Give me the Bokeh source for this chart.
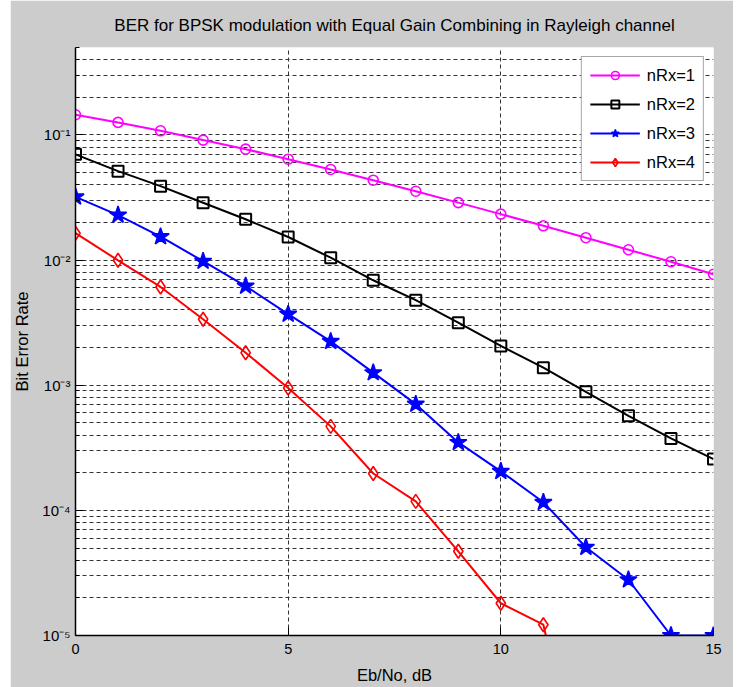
from bokeh.plotting import figure
from bokeh.models import (Range1d, FixedTicker, CustomJSTickFormatter, Legend,
                          LegendItem, Spacer)
from bokeh.layouts import row
from bokeh.embed import file_html
from bokeh.resources import INLINE

# ---------------- data ----------------
ebno_db = list(range(16))
ber_nrx1 = [0.145, 0.126, 0.108, 0.091, 0.077, 0.064, 0.053, 0.0435, 0.0355,
            0.0288, 0.0233, 0.0188, 0.0151, 0.0121, 0.0097, 0.0077]
ber_nrx2 = [0.070, 0.0514, 0.039, 0.0287, 0.0212, 0.0153, 0.01045, 0.0069,
            0.00478, 0.00316, 0.00206, 0.00138, 0.000885, 0.00057, 0.000376,
            0.000257]
ber_nrx3 = [0.032, 0.0229, 0.0154, 0.0098, 0.0062, 0.0037, 0.00224, 0.00126,
            0.000706, 0.000349, 0.000205, 0.000116, 5.07e-5, 2.79e-5, 1e-5,
            1e-5]
ebno_db4 = list(range(13))
ber_nrx4 = [0.0164, 0.00996, 0.0061, 0.00337, 0.00182, 0.00095, 0.000469,
            0.000197, 0.000118, 4.71e-5, 1.81e-5, 1.22e-5, 4e-7]

series_names = ["nRx=1", "nRx=2", "nRx=3", "nRx=4"]
x_ticks = [0, 5, 10, 15]
y_decades = [-5, -4, -3, -2, -1]

title_text = "BER for BPSK modulation with Equal Gain Combining in Rayleigh channel"
x_label = "Eb/No, dB"
y_label = "Bit Error Rate"

# ---------------- figure ----------------
FONT = "Liberation Sans, Arial, sans-serif"
GREY = "#cccccc"
GRID = "#333333"

p = figure(width=723, height=687, x_range=Range1d(0, 15),
           y_range=Range1d(1e-5, 0.5), y_axis_type="log",
           output_backend="svg", toolbar_location=None,
           min_border_left=62, min_border_right=20,
           min_border_top=47, min_border_bottom=52)

p.background_fill_color = "white"
p.border_fill_color = GREY
p.outline_line_color = None

p.title.text = title_text
p.title.align = "center"
p.title.text_font = FONT
p.title.text_font_size = "17px"
p.title.text_font_style = "normal"
p.title.text_color = "black"
p.title.standoff = 25

# ticks
major_y = [10.0 ** e for e in y_decades]
minor_y = [k * 10.0 ** e for e in y_decades for k in range(2, 10) if k * 10.0 ** e <= 0.5]
p.yaxis.ticker = FixedTicker(ticks=major_y, minor_ticks=minor_y)
p.yaxis.formatter = CustomJSTickFormatter(code="""
    const sup = {"-":"\u207b","0":"\u2070","1":"\u00b9","2":"\u00b2","3":"\u00b3",
                 "4":"\u2074","5":"\u2075","6":"\u2076","7":"\u2077","8":"\u2078","9":"\u2079"};
    const e = Math.round(Math.log10(tick));
    return "10" + String(e).split("").map(c => sup[c]).join("");
""")
p.xaxis.ticker = FixedTicker(ticks=x_ticks)

for ax in (p.xaxis[0], p.yaxis[0]):
    ax.axis_line_color = "black"
    ax.axis_line_width = 1.5
    ax.major_tick_line_color = "black"
    ax.minor_tick_line_color = "black"
    ax.major_tick_in = 8
    ax.major_tick_out = 0
    ax.major_label_text_font = FONT
    ax.major_label_text_font_size = "14.5px"
    ax.major_label_text_color = "black"
    ax.axis_label_text_font = FONT
    ax.axis_label_text_font_size = "16.5px"
    ax.axis_label_text_font_style = "normal"
    ax.axis_label_text_color = "black"

p.yaxis.major_label_text_font_size = "15px"
p.xaxis.minor_tick_in = 0
p.xaxis.minor_tick_out = 0
p.yaxis.minor_tick_in = 4
p.yaxis.minor_tick_out = 0
p.xaxis.major_label_standoff = 8
p.yaxis.major_label_standoff = 5
p.xaxis.axis_label = x_label
p.yaxis.axis_label = y_label
p.xaxis.axis_label_standoff = 9
p.yaxis.axis_label_standoff = 8

# grid
p.xgrid.grid_line_color = GRID
p.xgrid.grid_line_dash = "4 3"
p.xgrid.grid_line_width = 1
p.ygrid.grid_line_color = GRID
p.ygrid.grid_line_dash = "4 3"
p.ygrid.grid_line_width = 1
p.ygrid.minor_grid_line_color = GRID
p.ygrid.minor_grid_line_dash = "4 3"
p.ygrid.minor_grid_line_width = 1

# series
items = []
l1 = p.line(ebno_db, ber_nrx1, line_color="#ff00ff", line_width=2)
m1 = p.scatter(ebno_db, ber_nrx1, marker="circle", size=10, line_color="#ff00ff",
               line_width=1.6, fill_alpha=0)
items.append(LegendItem(label=series_names[0], renderers=[l1, m1]))

l2 = p.line(ebno_db, ber_nrx2, line_color="black", line_width=2)
m2 = p.scatter(ebno_db, ber_nrx2, marker="square", size=11, line_color="black",
               line_width=2, fill_alpha=0)
items.append(LegendItem(label=series_names[1], renderers=[l2, m2]))

l3 = p.line(ebno_db, ber_nrx3, line_color="#0000ff", line_width=2)
m3 = p.scatter(ebno_db, ber_nrx3, marker="star", size=18, line_color="#0000ff",
               line_width=1.5, fill_color="#0000ff")
items.append(LegendItem(label=series_names[2], renderers=[l3, m3]))

l4 = p.line(ebno_db4, ber_nrx4, line_color="#ff0000", line_width=2)
m4 = p.scatter(ebno_db4, ber_nrx4, marker="diamond", size=14, line_color="#ff0000",
               line_width=1.6, fill_alpha=0)
items.append(LegendItem(label=series_names[3], renderers=[l4, m4]))

legend = Legend(items=items, location="top_right", margin=9, padding=8,
                spacing=9, glyph_width=50, glyph_height=20, label_height=20,
                label_standoff=7, label_text_font=FONT,
                label_text_font_size="16.5px", label_text_color="black",
                border_line_color="#505050", border_line_width=1.5,
                background_fill_color="white", background_fill_alpha=1)
p.add_layout(legend, "center")

layout = row(Spacer(width=10, height=687), p)
open("out.html", "w").write(file_html(layout, INLINE))
